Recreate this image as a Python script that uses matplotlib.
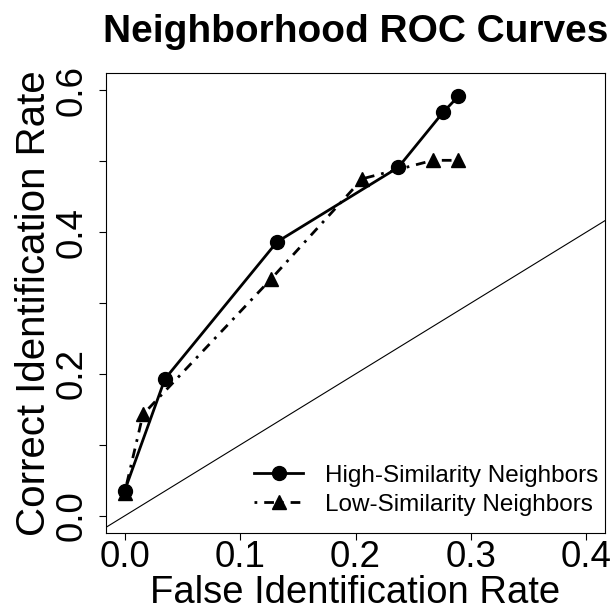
import matplotlib
matplotlib.use("Agg")
import matplotlib.pyplot as plt

plt.rcParams['font.family'] = ['Liberation Sans', 'DejaVu Sans']

# ROC points
high_far = [0.0, 0.035, 0.132, 0.237, 0.276, 0.289]
high_cir = [0.035, 0.193, 0.386, 0.491, 0.569, 0.591]
low_far = [0.0, 0.016, 0.127, 0.206, 0.267, 0.289]
low_cir = [0.032, 0.143, 0.334, 0.475, 0.501, 0.501]

xticks = [0.0, 0.1, 0.2, 0.3, 0.4]
yticks = [0.0, 0.1, 0.2, 0.3, 0.4, 0.5, 0.6]
ytick_labels = ['0.0', '', '0.2', '', '0.4', '', '0.6']

fig = plt.figure(figsize=(6.15, 6.12), dpi=100)
ax = fig.add_axes([0.1724, 0.1291, 0.8113, 0.7516])

# chance line y = x
ax.axline((0, 0), slope=1, color='black', lw=0.8)

ax.plot(high_far, high_cir, color='black', lw=2, marker='o', markersize=10,
        label='High-Similarity Neighbors')
ax.plot(low_far, low_cir, color='black', lw=2, linestyle=(0, (1, 2.5, 3.5, 2.5)),
        marker='^', markersize=10, label='Low-Similarity Neighbors')

ax.set_xlim(-0.016, 0.416)
ax.set_ylim(-0.024, 0.624)
ax.set_xticks(xticks)
ax.set_xticklabels([f'{t:.1f}' for t in xticks], fontsize=26.5)
ax.set_yticks(yticks)
ax.set_yticklabels(ytick_labels, fontsize=26.5, rotation=90, va='center')
ax.tick_params(direction='out', length=5, width=0.8)
ax.tick_params(axis='x', pad=0)
ax.tick_params(axis='y', pad=6.6)

ax.set_xlabel('False Identification Rate', fontsize=27.5, labelpad=0)
ax.set_ylabel('Correct Identification Rate', fontsize=29, labelpad=1.5)
ax.set_title('Neighborhood ROC Curves', fontsize=28, fontweight='bold', pad=22)

for s in ax.spines.values():
    s.set_linewidth(0.8)

ax.legend(loc='lower right', frameon=False, fontsize=17.5, handlelength=2.0,
          handletextpad=0.9, labelspacing=0.3, borderpad=0.2,
          bbox_to_anchor=(1.02, 0.0))

fig.savefig('out.png', dpi=100)
